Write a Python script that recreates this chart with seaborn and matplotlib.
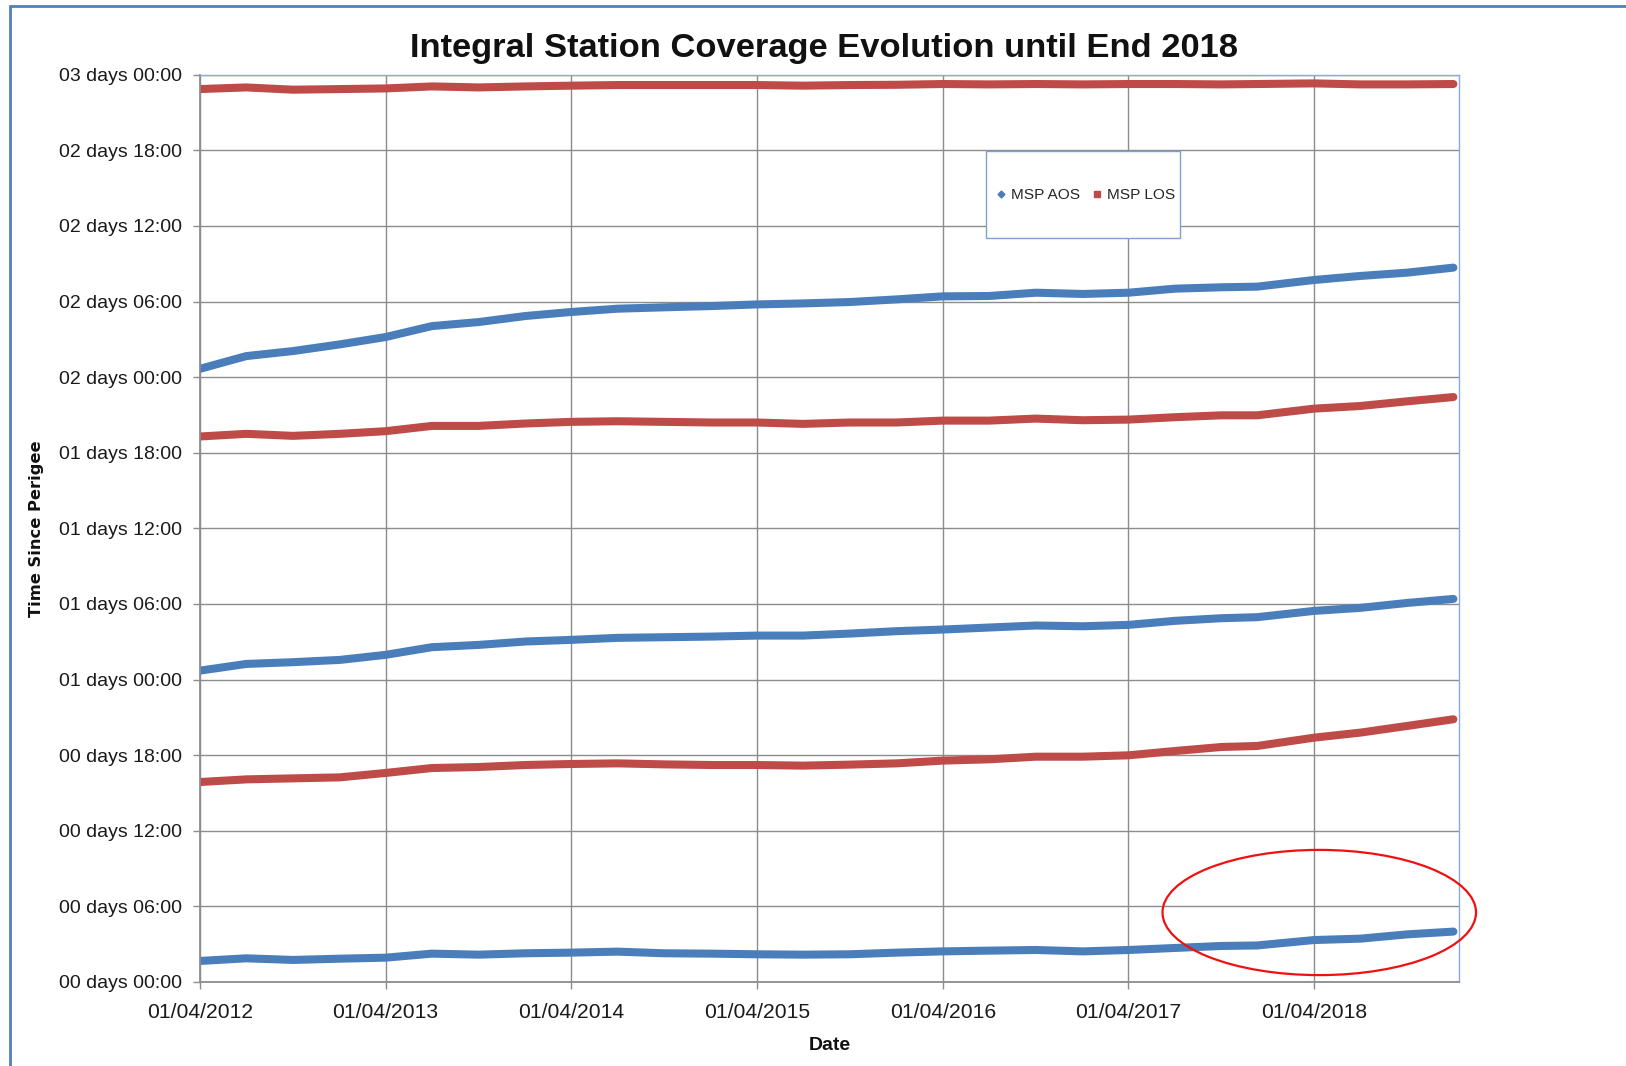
import numpy as np
import pandas as pd
import matplotlib
matplotlib.use("Agg")
import matplotlib.pyplot as plt
import seaborn as sns
from matplotlib.lines import Line2D
from matplotlib.patches import Ellipse, Rectangle
from matplotlib.ticker import FuncFormatter

# ---------------- data ----------------
DATES = ["2012-04-01", "2012-07-01", "2012-10-01", "2013-01-01", "2013-04-01", "2013-07-01",
         "2013-10-01", "2014-01-01", "2014-04-01", "2014-07-01", "2014-10-01", "2015-01-01",
         "2015-04-01", "2015-07-01", "2015-10-01", "2016-01-01", "2016-04-01", "2016-07-01",
         "2016-10-01", "2017-01-01", "2017-04-01", "2017-07-01", "2017-10-01", "2017-12-10",
         "2018-04-01", "2018-07-01", "2018-10-01", "2018-12-31"]

# hours since perigee
AOS_1 = [1.67, 1.88, 1.75, 1.85, 1.93, 2.25, 2.17, 2.28, 2.33, 2.41, 2.28, 2.25, 2.20, 2.17,
         2.20, 2.33, 2.43, 2.49, 2.54, 2.43, 2.54, 2.70, 2.86, 2.90, 3.33, 3.44, 3.78, 4.00]
AOS_2 = [24.71, 25.24, 25.38, 25.56, 25.96, 26.57, 26.75, 27.02, 27.15, 27.31, 27.36, 27.41,
         27.49, 27.49, 27.65, 27.84, 27.97, 28.13, 28.29, 28.23, 28.34, 28.66, 28.87, 28.95,
         29.45, 29.69, 30.08, 30.40]
AOS_3 = [48.66, 49.67, 50.07, 50.60, 51.18, 52.05, 52.37, 52.85, 53.17, 53.43, 53.54, 53.64,
         53.77, 53.85, 53.96, 54.17, 54.41, 54.44, 54.70, 54.60, 54.70, 55.02, 55.13, 55.18,
         55.71, 56.03, 56.29, 56.69]
LOS_1 = [15.87, 16.08, 16.16, 16.24, 16.59, 16.98, 17.06, 17.22, 17.30, 17.35, 17.27, 17.22,
         17.22, 17.17, 17.25, 17.35, 17.57, 17.67, 17.88, 17.88, 17.99, 18.33, 18.65, 18.73,
         19.39, 19.79, 20.32, 20.85]
LOS_2 = [43.29, 43.50, 43.34, 43.50, 43.71, 44.13, 44.13, 44.32, 44.45, 44.50, 44.45, 44.40,
         44.40, 44.29, 44.40, 44.40, 44.55, 44.55, 44.71, 44.58, 44.63, 44.82, 44.97, 44.97,
         45.50, 45.71, 46.08, 46.42]
LOS_3 = [70.86, 70.99, 70.81, 70.86, 70.91, 71.07, 70.99, 71.07, 71.13, 71.18, 71.18, 71.18,
         71.18, 71.13, 71.18, 71.20, 71.26, 71.23, 71.26, 71.23, 71.26, 71.26, 71.23, 71.26,
         71.31, 71.23, 71.23, 71.26]

SERIES = ["MSP AOS", "MSP LOS"]
Y_TICKS_H = list(range(0, 73, 6))
X_TICK_DATES = ["2012-04-01", "2013-04-01", "2014-04-01", "2015-04-01",
                "2016-04-01", "2017-04-01", "2018-04-01"]
TITLE = "Integral Station Coverage Evolution until End 2018"

# ---------------- build table ----------------
tracks = [("MSP AOS", "aos1", AOS_1), ("MSP AOS", "aos2", AOS_2), ("MSP AOS", "aos3", AOS_3),
          ("MSP LOS", "los1", LOS_1), ("MSP LOS", "los2", LOS_2), ("MSP LOS", "los3", LOS_3)]
frames = []
for s, t, vals in tracks:
    frames.append(pd.DataFrame({"date": pd.to_datetime(DATES), "hours": vals,
                                "series": s, "track": t}))
df = pd.concat(frames, ignore_index=True)

BLUE = "#4A7EBB"
RED = "#BE4B48"
palette = {"MSP AOS": BLUE, "MSP LOS": RED}

sns.set_style("white")
plt.rcParams["font.family"] = ["Liberation Sans", "DejaVu Sans"]

W, H = 1626, 1066
fig = plt.figure(figsize=(W / 100, H / 100), dpi=100)
ax = fig.add_axes([200 / W, 1 - 982 / H, 1259 / W, 907.3 / H])

sns.lineplot(data=df, x="date", y="hours", hue="series", units="track", estimator=None,
             palette=palette, linewidth=5.8, legend=False, ax=ax, sort=False,
             solid_capstyle="round", solid_joinstyle="round")

ax.set_ylim(0, 72)
ax.set_xlim(pd.Timestamp("2012-04-01"), pd.Timestamp("2019-01-11"))
ax.set_yticks(Y_TICKS_H)
ax.yaxis.set_major_formatter(FuncFormatter(lambda v, p: f"{int(v)//24:02d} days {int(v)%24:02d}:00"))
xt = pd.to_datetime(X_TICK_DATES)
ax.set_xticks(xt)
ax.set_xticklabels([d.strftime("%d/%m/%Y") for d in xt])
ax.set_xlabel("")
ax.set_ylabel("")

ax.grid(True, color="#8C8C8C", linewidth=1.0)
ax.set_axisbelow(True)
for side in ["left", "bottom"]:
    ax.spines[side].set_color("#8C8C8C")
    ax.spines[side].set_linewidth(1.3)
for side in ["top", "right"]:
    ax.spines[side].set_color("#8EAADB")
    ax.spines[side].set_linewidth(1.0)

ax.tick_params(axis="y", direction="out", length=5, width=1, color="#8C8C8C",
               pad=8, labelsize=14, labelcolor="#1a1a1a", left=True)
ax.tick_params(axis="x", direction="out", length=5, width=1, color="#8C8C8C",
               pad=10, labelsize=15.2, labelcolor="#1a1a1a", bottom=True)

# legend box (drawn separately so its padding matches the reference)
def ax_xy(px, py):
    return (px - 200) / 1259, (982 - py) / 907.3

bx0, by0 = ax_xy(986, 238)
bx1, by1 = ax_xy(1180, 151)
ax.add_patch(Rectangle((bx0, by0), bx1 - bx0, by1 - by0, transform=ax.transAxes,
                       fill=True, facecolor="white", edgecolor="#7FA0D0", linewidth=1.0,
                       zorder=4, clip_on=False))
handles = [Line2D([], [], marker="D", color=BLUE, linestyle="", markersize=3.5),
           Line2D([], [], marker="s", color=RED, linestyle="", markersize=4)]
lcx, lcy = ax_xy(1086, 195)
leg = ax.legend(handles, SERIES, ncol=2, loc="center", bbox_to_anchor=(lcx, lcy),
                frameon=False, fontsize=11.1, borderpad=0.2, handlelength=0.6,
                handletextpad=0.35, columnspacing=0.8)
leg.set_zorder(6)

# red annotation ellipse
ell = Ellipse((0.889, 0.0766), 0.249, 0.138, transform=ax.transAxes, fill=False,
              edgecolor="#F01010", linewidth=1.6, clip_on=False, zorder=5)
ax.add_patch(ell)

# texts
fig.text(824 / W, 1 - 49 / H, TITLE, ha="center", va="center",
         fontsize=24.8, fontweight="bold", color="#111111")
fig.text(37 / W, 1 - 529 / H, "Time Since Perigee", rotation=90, ha="center",
         va="center", fontsize=11.7, fontweight="bold", color="#111111",
         family=["DejaVu Sans"])
fig.text(830 / W, 1 - 1045 / H, "Date", ha="center", va="center",
         fontsize=14, fontweight="bold", color="#111111")

# outer frame lines (top and left)
fx = 10 / W
fy = 1 - 6 / H
fig.add_artist(Line2D([fx, fx], [0, fy], transform=fig.transFigure, color="#4F81BD", lw=2))
fig.add_artist(Line2D([fx, 1], [fy, fy], transform=fig.transFigure, color="#4F81BD", lw=2))

fig.savefig("out.png", dpi=100, facecolor="white")
